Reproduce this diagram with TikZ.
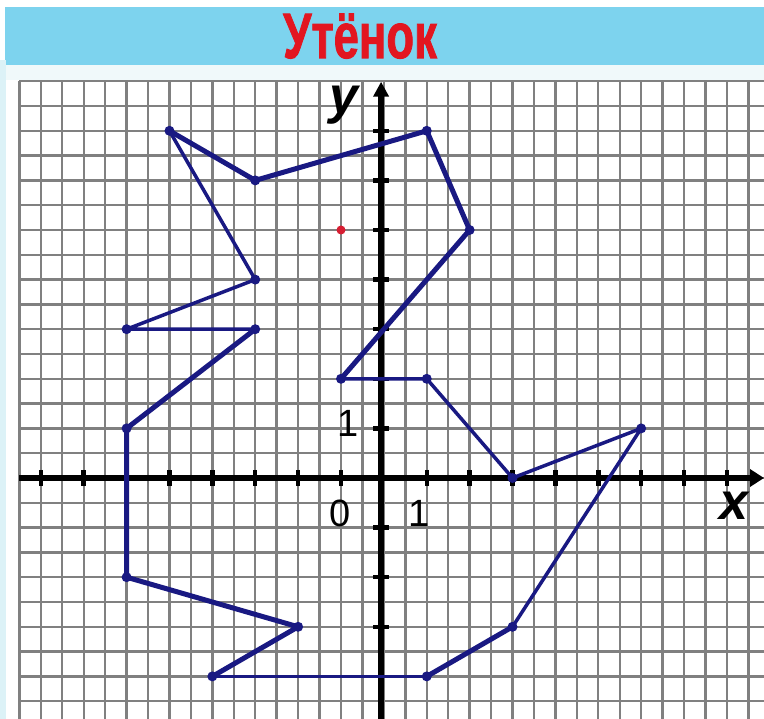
\documentclass[tikz,border=0pt]{standalone}
\usepackage{fontspec}
\setmainfont{Liberation Sans}
\newfontfamily\titlefont[BoldFeatures={FakeBold=1.6}]{Liberation Sans}
\usetikzlibrary{arrows.meta}
\definecolor{barblue}{RGB}{125,211,238}
\definecolor{titlered}{RGB}{226,22,32}
\definecolor{navy}{RGB}{25,25,130}
\definecolor{gridgray}{RGB}{128,128,128}
\definecolor{paleband}{RGB}{240,249,250}
\definecolor{edgecyan}{RGB}{220,242,247}
\definecolor{eyered}{RGB}{215,30,50}
\begin{document}
\begin{tikzpicture}[
  gridline/.style={gridgray, line width=2.4pt},
  axisline/.style={black, line width=5.5pt},
  tickmark/.style={black, line width=4.5pt},
  thickseg/.style={navy, line width=5pt, line cap=round, line join=round},
  thinseg/.style={navy, line width=3.5pt, line cap=round, line join=round},
  vert/.style={circle, fill=navy, inner sep=0pt, minimum size=10pt},
  digit/.style={font=\fontsize{38}{38}\selectfont, anchor=base, inner sep=0pt},
  axislabel/.style={font=\fontsize{52}{52}\selectfont\bfseries\itshape, anchor=base, inner sep=0pt}
]
\useasboundingbox (0,0) rectangle (764pt,-719pt);
\fill[white] (0,0) rectangle (764pt,-719pt);
\fill[barblue] (5pt,-7pt) rectangle (764pt,-65pt);
\fill[paleband] (0,-65pt) rectangle (764pt,-80pt);
\fill[edgecyan] (0,-60pt) rectangle (6pt,-719pt);
\node[anchor=base, inner sep=0pt, text=titlered, font=\titlefont\fontsize{64}{64}\selectfont\bfseries] (title) at (360pt,-58pt) {\scalebox{0.71}[1]{Утёнок}};

\begin{scope}[x={(21.44pt,0)}, y={(0,-24.8pt)}, shift={(341pt,-81.2pt)}]
  % grid
  \foreach \k in {-15,...,19} \draw[gridline] (\k,0) -- (\k,25.8);
  \foreach \j in {0,...,25} \draw[gridline] (-15,\j) -- (19.8,\j);
  % axes
  \draw[axisline, -{Triangle[length=14pt,width=17pt]}] (-15,16) -- (19.73,16);
  \draw[axisline, -{Triangle[length=15pt,width=15pt]}] (1.87,25.8) -- (1.87,0.02);
  \foreach \k in {-14,-12,...,0,4,6,...,18}
    \draw[tickmark] ([yshift=8pt]\k,16) -- ([yshift=-8pt]\k,16);
  \foreach \j in {2,4,...,14,18,20,22}
    \draw[tickmark] ([xshift=-8pt]1.87,\j) -- ([xshift=8pt]1.87,\j);
  % vertices
  \node[vert] (p1) at (0,12) {};
  \node[vert] (p2) at (6,6) {};
  \node[vert] (p3) at (4,2) {};
  \node[vert] (p4) at (-4,4) {};
  \node[vert] (p5) at (-8,2) {};
  \node[vert] (p6) at (-4,8) {};
  \node[vert] (p7) at (-10,10) {};
  \node[vert] (p8) at (-4,10) {};
  \node[vert] (p9) at (-10,14) {};
  \node[vert] (p10) at (-10,20) {};
  \node[vert] (p11) at (-2,22) {};
  \node[vert] (p12) at (-6,24) {};
  \node[vert] (p13) at (4,24) {};
  \node[vert] (p14) at (8,22) {};
  \node[vert] (p15) at (14,14) {};
  \node[vert] (p16) at (8,16) {};
  \node[vert] (p17) at (4,12) {};
  \node[circle, fill=eyered, inner sep=0pt, minimum size=9pt] (eye) at (0,6) {};
  % outline
  \draw[thickseg] (p1.center) -- (p2.center) -- (p3.center) -- (p4.center) -- (p5.center);
  \draw[thinseg] (p5.center) -- (p6.center) -- (p7.center) -- (p8.center);
  \draw[thickseg] (p8.center) -- (p9.center) -- (p10.center) -- (p11.center) -- (p12.center);
  \draw[thinseg] (p12.center) -- (p13.center);
  \draw[thickseg] (p13.center) -- (p14.center);
  \draw[thinseg] (p14.center) -- (p15.center) -- (p16.center) -- (p17.center) -- (p1.center);
\end{scope}

\node[digit] (zero) at (340pt,-527pt) {0};
\node[digit] (onex) at (419pt,-527pt) {1};
\node[digit] (oney) at (348pt,-437pt) {1};
\node[axislabel] (xlab) at (734pt,-520pt) {x};
\node[axislabel] (ylab) at (344pt,-114pt) {y};
\end{tikzpicture}
\end{document}
